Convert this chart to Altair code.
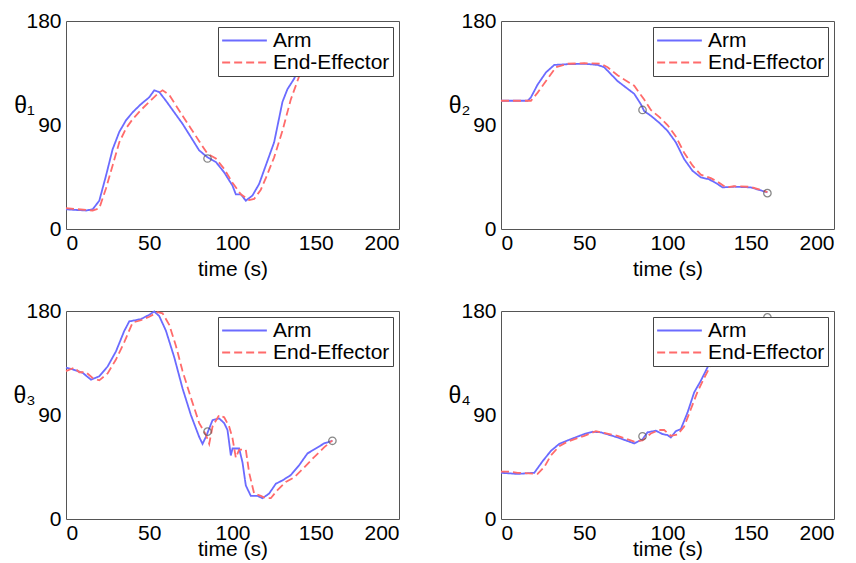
import altair as alt
import pandas as pd

SERIES = ["Arm", "End-Effector"]
COLORS = ["#6b6bff", "#ff6b6b"]
DASHES = [[1, 0], [8, 4]]
X_TICKS = [0, 50, 100, 150, 200]
Y_TICKS = [0, 90, 180]
LABELS = ["θ₁", "θ₂", "θ₃", "θ₄"]

# Panel 1 (theta 1)
p1_arm_t = [0, 12, 16, 20, 24, 28, 32, 36, 40, 45, 50, 53, 56, 60, 65, 70, 75, 80, 85, 90, 95, 100, 102, 105, 108, 112, 116, 120, 125, 130, 133, 137, 140, 145, 150, 160]
p1_arm_v = [17, 16, 17, 24.5, 46, 69, 84, 94, 101, 108, 114, 120, 118.5, 111, 101, 91, 79.5, 68, 62, 58, 49, 37.5, 30, 30, 24.5, 29, 39, 55, 75, 110, 121, 130, 140, 150, 158, 165]
p1_ee_t = [0, 16, 20, 24, 28, 32, 36, 40, 45, 50, 55, 58, 62, 66, 70, 75, 80, 85, 90, 95, 100, 105, 110, 113, 117, 120, 125, 130, 135, 140, 143, 150, 160]
p1_ee_v = [18, 16, 18, 35, 55, 75, 87, 95, 103, 110, 117, 120, 116, 107, 98, 87, 76, 65, 61, 52, 40, 30, 25, 26, 34, 44, 62, 85, 112, 132, 140, 152, 163]
p1_mark_t = [85]
p1_mark_v = [61]

# Panel 2 (theta 2)
p2_arm_t = [0, 16, 18, 22, 27, 32, 40, 50, 58, 62, 70, 75, 80, 84, 86, 90, 95, 100, 105, 110, 115, 120, 125, 130, 133, 140, 150, 160]
p2_arm_v = [111, 111, 114, 125, 135.5, 142, 142.6, 143, 142, 140, 128, 122.5, 117, 108, 102, 98, 92, 85, 75, 60.5, 50.4, 44.7, 43, 39, 36, 36.6, 36, 31.7]
p2_ee_t = [0, 18, 22, 28, 33, 40, 50, 60, 64, 70, 80, 86, 90, 95, 100, 105, 110, 115, 120, 126, 130, 135, 140, 150, 160]
p2_ee_v = [111, 111, 118, 130, 140, 143, 143.5, 143, 140, 133, 124, 112, 103, 97, 90, 80, 66, 55, 47, 44, 41, 36, 37, 36.5, 32]
p2_mark_t = [85, 160]
p2_mark_v = [103, 31]

# Panel 3 (theta 3)
p3_arm_t = [0, 5, 10, 15, 20, 25, 30, 35, 38, 45, 50, 53, 56, 60, 65, 70, 75, 80, 82, 84, 88, 92, 95, 97, 99, 100, 104, 106, 108, 111, 115, 118, 122, 126, 130, 135, 140, 145, 150, 155, 160]
p3_arm_v = [131, 129, 126.5, 120.6, 123.5, 132, 145, 162.8, 171, 173, 176.7, 179.6, 175.6, 163, 140, 113, 90, 71, 65, 71, 85.5, 87, 83, 77, 55, 61, 61, 49, 29, 20, 20, 18, 22, 30.5, 33.4, 38, 46.5, 56.7, 61, 65.4, 67.7]
p3_ee_t = [0, 5, 8, 12, 16, 20, 25, 30, 35, 40, 45, 50, 55, 58, 62, 66, 70, 75, 80, 84, 86, 88, 92, 95, 98, 100, 102, 104, 108, 110, 113, 117, 120, 123, 127, 132, 137, 142, 148, 155, 160]
p3_ee_v = [128, 131, 127, 127, 122, 120, 126, 138, 153, 170, 172, 175, 179, 178, 168, 150, 128, 105, 83, 73, 65, 80, 90, 88, 80, 70, 53, 60, 60, 40, 22, 20, 18, 18, 25, 32, 36, 43, 52, 62, 68]
p3_mark_t = [85, 160]
p3_mark_v = [75.6, 67.7]

# Panel 4 (theta 4)
p4_arm_t = [0, 10, 20, 25, 30, 35, 40, 50, 55, 60, 70, 80, 85, 88, 93, 97, 100, 102, 105, 108, 112, 116, 120, 125, 128, 130, 140, 150, 160]
p4_arm_v = [40, 39, 40, 50, 59, 65, 68, 73.5, 75.5, 75, 70.6, 65.4, 69, 75, 76.4, 73.5, 72.6, 70.6, 76, 77.8, 92, 109.5, 119.6, 134, 142.7, 148, 160, 168, 174]
p4_ee_t = [0, 5, 10, 22, 26, 30, 35, 40, 50, 57, 60, 70, 80, 85, 90, 95, 98, 102, 106, 110, 114, 118, 122, 126, 130, 135, 145, 155, 160]
p4_ee_v = [41, 41, 40, 39, 45, 55, 63, 67, 72, 76, 75, 72, 67, 68, 74, 77, 77, 72, 73, 80, 95, 110, 122, 133, 143, 150, 162, 170, 173]
p4_mark_t = [85, 160]
p4_mark_v = [71.6, 174.5]

FONT = "Liberation Sans"


def panel(arm_t, arm_v, ee_t, ee_v, mk_t, mk_v, label, x_title_y):
    df = pd.DataFrame({
        "t": arm_t + ee_t,
        "v": arm_v + ee_v,
        "s": [SERIES[0]] * len(arm_t) + [SERIES[1]] * len(ee_t),
    })
    mk = pd.DataFrame({"t": mk_t, "v": mk_v})
    x = alt.X("t:Q", scale=alt.Scale(domain=[0, 200], nice=False),
              axis=alt.Axis(values=X_TICKS, title="time (s)", titleY=x_title_y,
                            titleBaseline="middle", labelPadding=3))
    y = alt.Y("v:Q", scale=alt.Scale(domain=[0, 180], nice=False),
              axis=alt.Axis(values=Y_TICKS, title=label, titleAngle=0, titleX=-42,
                            titleY=84, titleAlign="center", titleBaseline="middle",
                            titleFontSize=23, labelPadding=5))
    leg = alt.Legend(title=None, orient="top-right", offset=6, symbolType="stroke",
                     symbolSize=2000, symbolStrokeWidth=2, clipHeight=21,
                     labelFontSize=21, labelFont=FONT, labelColor="black",
                     strokeColor="#444", fillColor="white", padding=3,
                     labelOffset=5, rowPadding=0, zindex=2)
    lines = alt.Chart(df).mark_line(strokeWidth=1.8).encode(
        x=x, y=y,
        color=alt.Color("s:N", scale=alt.Scale(domain=SERIES, range=COLORS), legend=leg),
        strokeDash=alt.StrokeDash("s:N", scale=alt.Scale(domain=SERIES, range=DASHES), legend=leg),
    )
    pts = alt.Chart(mk).mark_point(shape="circle", size=55, filled=False,
                                   color="#555", strokeWidth=1.3).encode(x="t:Q", y="v:Q")
    return alt.layer(lines, pts).properties(width=333, height=208)


c1 = panel(p1_arm_t, p1_arm_v, p1_ee_t, p1_ee_v, p1_mark_t, p1_mark_v, LABELS[0], 40)
c2 = panel(p2_arm_t, p2_arm_v, p2_ee_t, p2_ee_v, p2_mark_t, p2_mark_v, LABELS[1], 40)
c3 = panel(p3_arm_t, p3_arm_v, p3_ee_t, p3_ee_v, p3_mark_t, p3_mark_v, LABELS[2], 30)
c4 = panel(p4_arm_t, p4_arm_v, p4_ee_t, p4_ee_v, p4_mark_t, p4_mark_v, LABELS[3], 30)

chart = alt.concat(c1, c2, c3, c4, columns=2, spacing=alt.RowColnumber(row=82, column=102),
                   bounds="flush").resolve_scale(
    color="independent", strokeDash="independent"
).properties(
    padding={"left": 4, "top": 1, "right": 5, "bottom": 2}, background="white"
).configure_view(
    stroke="#555", strokeWidth=1
).configure_axis(
    grid=False, ticks=False, domain=False,
    labelFont=FONT, labelFontSize=21, labelColor="black",
    titleFont=FONT, titleFontSize=21, titleFontWeight="normal", titleColor="black",
)

chart.save("out.html", embed_options={"renderer": "svg", "actions": False})
